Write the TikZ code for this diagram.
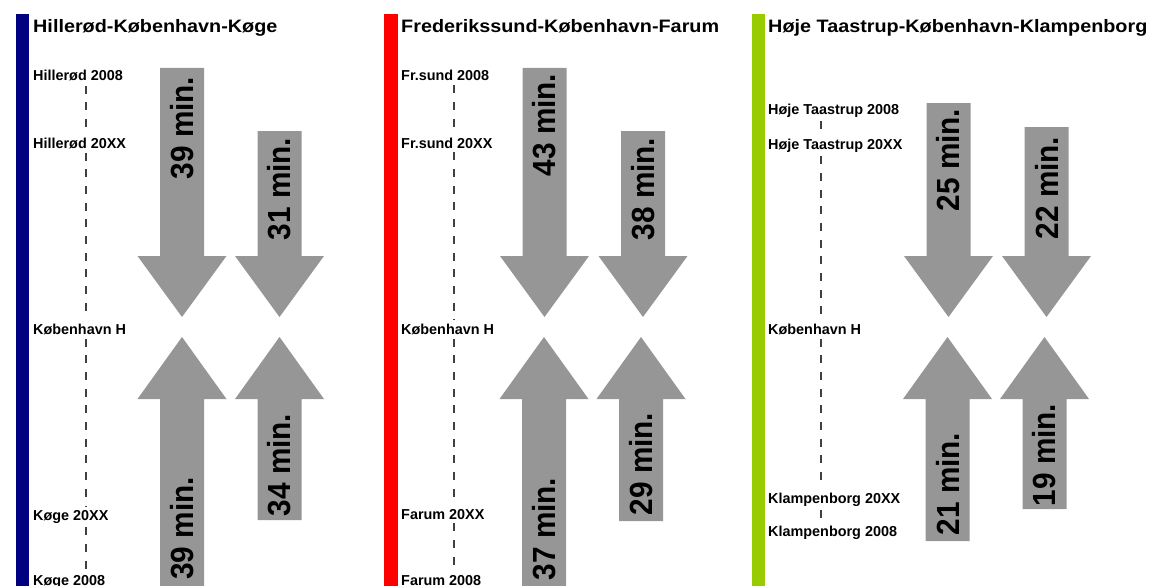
\documentclass[tikz,border=0pt]{standalone}
\usepackage{fontspec}
\setmainfont{Liberation Sans}
\newfontfamily\widefont[FakeStretch=1.1]{Liberation Sans}
\newfontfamily\tallfont[FakeStretch=0.93]{Liberation Sans}
\usetikzlibrary{calc,positioning}
\usepackage{xcolor}
\definecolor{navybar}{RGB}{0,0,128}
\definecolor{redbar}{RGB}{255,0,0}
\definecolor{greenbar}{RGB}{153,204,0}
\definecolor{arrgray}{RGB}{150,150,150}
\definecolor{dashgray}{RGB}{64,64,64}
\newcommand{\shafthw}{22}
\newcommand{\headhw}{44.5}
\tikzset{
    titlesty/.style={anchor=base west,inner sep=0pt,font=\widefont\fontsize{18}{20}\selectfont\bfseries},
    stnsty/.style={anchor=base west,inner sep=0pt,font=\fontsize{14.4}{16}\selectfont\bfseries},
    minsty/.style={rotate=90,inner sep=0pt,anchor=center,font=\tallfont\fontsize{32}{34}\selectfont\bfseries},
    arrsty/.style={fill=arrgray},
    dashsty/.style={draw=dashgray,line width=1.5pt,dash pattern=on 8pt off 8.7pt,shorten <=4pt,shorten >=4pt},
}
% down arrow: x centre, shaft top
\newcommand{\dnarr}[2]{\fill[arrsty] ({#1-\shafthw},#2) -- ({#1+\shafthw},#2) -- ({#1+\shafthw},256) -- ({#1+\headhw},256) -- (#1,317) -- ({#1-\headhw},256) -- ({#1-\shafthw},256) -- cycle;}
% up arrow: x centre, shaft bottom
\newcommand{\uparr}[2]{\fill[arrsty] ({#1-\shafthw},#2) -- ({#1+\shafthw},#2) -- ({#1+\shafthw},399) -- ({#1+\headhw},399) -- (#1,337) -- ({#1-\headhw},399) -- ({#1-\shafthw},399) -- cycle;}

\begin{document}
\begin{tikzpicture}[x=1pt,y=-1pt]
\useasboundingbox (0,0) rectangle (1151,586);

% colour bars
\fill[navybar] (16,14) rectangle (29,586);
\fill[redbar] (384,14) rectangle (398,586);
\fill[greenbar] (752,14) rectangle (765,586);

% titles
\node[titlesty] (t1) at (33,32.7) {Hillerød-København-Køge};
\node[titlesty] (t2) at (401,32.7) {Frederikssund-København-Farum};
\node[titlesty] (t3) at (768,32.7) {Høje Taastrup-København-Klampenborg};

% stations
\node[stnsty] (p1a) at (33,81) {Hillerød 2008};
\node[stnsty] (p1b) at (33,148) {Hillerød 20XX};
\node[stnsty] (p1c) at (33,334) {København H};
\node[stnsty] (p1d) at (33,520) {Køge 20XX};
\node[stnsty] (p1e) at (33,585.5) {Køge 2008};

\node[stnsty] (p2a) at (401,81) {Fr.sund 2008};
\node[stnsty] (p2b) at (401,148) {Fr.sund 20XX};
\node[stnsty] (p2c) at (401,334) {København H};
\node[stnsty] (p2d) at (401,519) {Farum 20XX};
\node[stnsty] (p2e) at (401,585.5) {Farum 2008};

\node[stnsty] (p3a) at (768,114) {Høje Taastrup 2008};
\node[stnsty] (p3b) at (768,149) {Høje Taastrup 20XX};
\node[stnsty] (p3c) at (768,334) {København H};
\node[stnsty] (p3d) at (768,503) {Klampenborg 20XX};
\node[stnsty] (p3e) at (768,536) {Klampenborg 2008};

\coordinate (s1) at (86,0);
\coordinate (s2) at (454,0);
\coordinate (s3) at (821,0);
\foreach \p in {1,2,3}
  \foreach \a/\b in {a/b,b/c,c/d,d/e}
    \draw[dashsty] (p\p\a.south -| s\p) -- (p\p\b.north -| s\p);

% arrows
\dnarr{182}{68}
\dnarr{279.5}{131}
\uparr{182}{600}
\uparr{279.5}{520}
\dnarr{544.5}{68}
\dnarr{643}{131}
\uparr{544}{600}
\uparr{641}{521}
\dnarr{948.5}{103}
\dnarr{1046.5}{127}
\uparr{947.5}{541}
\uparr{1044.5}{509}

% travel times
\node[minsty] (m1a) at (182,128) {39 min.};
\node[minsty] (m1b) at (279.5,189) {31 min.};
\node[minsty] (m1c) at (182,528.5) {39 min.};
\node[minsty] (m1d) at (279.5,465) {34 min.};
\node[minsty] (m2a) at (544.5,125) {43 min.};
\node[minsty] (m2b) at (643,189) {38 min.};
\node[minsty] (m2c) at (544,529) {37 min.};
\node[minsty] (m2d) at (641,464) {29 min.};
\node[minsty] (m3a) at (948.5,160) {25 min.};
\node[minsty] (m3b) at (1046.5,188) {22 min.};
\node[minsty] (m3c) at (947.5,484) {21 min.};
\node[minsty] (m3d) at (1044.5,455) {19 min.};
\end{tikzpicture}
\end{document}
